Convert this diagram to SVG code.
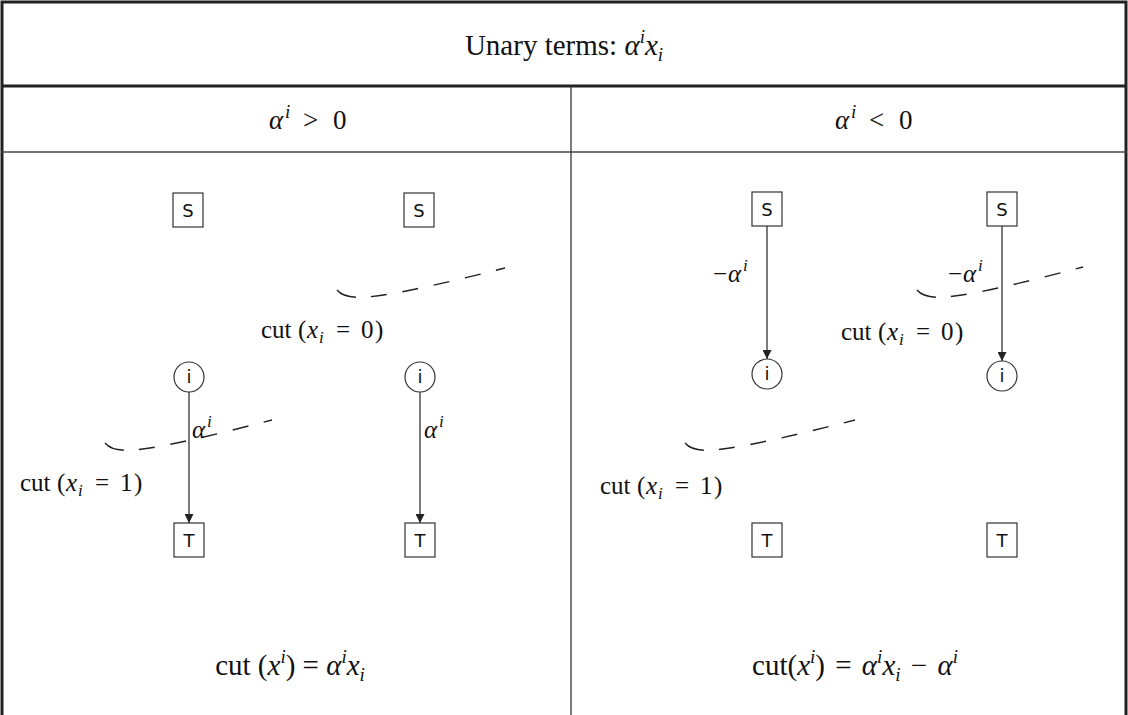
<svg xmlns="http://www.w3.org/2000/svg" width="1128" height="715" viewBox="0 0 1128 715">
<defs>
<style>
.frame{fill:none;stroke:#222;stroke-width:3}
.grid{fill:none;stroke:#444;stroke-width:1.4}
.box{fill:#fff;stroke:#333;stroke-width:1.2}
.nl{font-family:"DejaVu Sans",sans-serif;font-size:18px;fill:#111;text-anchor:middle}
.m{font-family:"Liberation Serif",serif;fill:#111}
.lab{font-size:25px}
.it{font-style:italic}
.sub{font-size:17px}
.edge{stroke:#333;stroke-width:1.3;fill:none;marker-end:url(#ah)}
.cut{stroke:#222;stroke-width:1.4;fill:none;stroke-dasharray:21 15 16 16 16 16 16 16 16 16 16 16 16 16 16 16}
</style>
<marker id="ah" viewBox="0 0 10 10" refX="10" refY="5" markerWidth="9" markerHeight="9" markerUnits="userSpaceOnUse" orient="auto">
<path d="M0,0 L10,5 L0,10 z" fill="#222"/>
</marker>
</defs>
<rect width="1128" height="715" fill="#fff"/>
<g id="table">
<path class="frame" d="M2,716 V2 H1126 V716"/>
<line class="frame" x1="2" y1="86" x2="1126" y2="86" stroke-width="2.2"/>
<line class="grid" x1="2" y1="152" x2="1126" y2="152"/>
<line class="grid" x1="571" y1="86" x2="571" y2="715"/>
</g>
<g id="headers">
<text class="m" x="564" y="55" font-size="29" text-anchor="middle">Unary terms: <tspan class="it">α</tspan><tspan class="it" font-size="19" dy="-12">i</tspan><tspan class="it" dy="12">x</tspan><tspan class="it" font-size="19" dy="6">i</tspan></text>
<text class="m" y="129" font-size="27"><tspan class="it" x="269">α</tspan><tspan class="it" x="285" font-size="19" dy="-11">i</tspan><tspan x="303" dy="11">&gt;</tspan><tspan x="333">0</tspan></text>
<text class="m" y="129" font-size="27"><tspan class="it" x="835">α</tspan><tspan class="it" x="851" font-size="19" dy="-11">i</tspan><tspan x="869" dy="11">&lt;</tspan><tspan x="899">0</tspan></text>
</g>
<g id="connectors">
<line class="edge" x1="189" y1="392" x2="189" y2="523"/>
<line class="edge" x1="420" y1="392" x2="420" y2="523"/>
<line class="edge" x1="767" y1="226" x2="767" y2="359"/>
<line class="edge" x1="1002" y1="226" x2="1002" y2="361"/>
<path class="cut" d="M337,290 C347,302 370,302 505,268"/>
<path class="cut" d="M105,443 C115,455 137,455 272,420"/>
<path class="cut" d="M917,290 C927,302 950,302 1083,267"/>
<path class="cut" d="M685,443 C695,455 717,455 855,420"/>
</g>
<g id="S1"><rect class="box" x="173" y="193" width="30" height="34"/><text class="nl" x="188" y="217">S</text></g>
<g id="S2"><rect class="box" x="404" y="193" width="30" height="34"/><text class="nl" x="419" y="217">S</text></g>
<g id="S3"><rect class="box" x="752" y="192" width="30" height="34"/><text class="nl" x="767" y="216">S</text></g>
<g id="S4"><rect class="box" x="987" y="192" width="30" height="34"/><text class="nl" x="1002" y="216">S</text></g>
<g id="i1"><circle class="box" cx="189" cy="377" r="15"/><text class="nl" x="189" y="383">i</text></g>
<g id="i2"><circle class="box" cx="420" cy="377" r="15"/><text class="nl" x="420" y="383">i</text></g>
<g id="i3"><circle class="box" cx="767" cy="374" r="15"/><text class="nl" x="767" y="380">i</text></g>
<g id="i4"><circle class="box" cx="1002" cy="376" r="15"/><text class="nl" x="1002" y="382">i</text></g>
<g id="T1"><rect class="box" x="174" y="523" width="30" height="34"/><text class="nl" x="189" y="547">T</text></g>
<g id="T2"><rect class="box" x="405" y="523" width="30" height="34"/><text class="nl" x="420" y="547">T</text></g>
<g id="T3"><rect class="box" x="752" y="523" width="30" height="34"/><text class="nl" x="767" y="547">T</text></g>
<g id="T4"><rect class="box" x="987" y="523" width="30" height="34"/><text class="nl" x="1002" y="547">T</text></g>
<g id="labels">
<g transform="translate(192,438)"><text class="m lab"><tspan class="it" x="0">α</tspan><tspan class="it sub" x="15" dy="-11">i</tspan></text></g>
<g transform="translate(424,438)"><text class="m lab"><tspan class="it" x="0">α</tspan><tspan class="it sub" x="15" dy="-11">i</tspan></text></g>
<g transform="translate(713,282)"><text class="m lab"><tspan x="0">−</tspan><tspan class="it" x="15">α</tspan><tspan class="it sub" x="30" dy="-11">i</tspan></text></g>
<g transform="translate(948,282)"><text class="m lab"><tspan x="0">−</tspan><tspan class="it" x="15">α</tspan><tspan class="it sub" x="30" dy="-11">i</tspan></text></g>
<g transform="translate(261,338)"><text class="m lab"><tspan x="0">cut</tspan><tspan x="37">(</tspan><tspan class="it" x="46">x</tspan><tspan class="it sub" x="58" dy="5">i</tspan><tspan x="75" dy="-5">=</tspan><tspan x="100">0</tspan><tspan x="114">)</tspan></text></g>
<g transform="translate(20,491)"><text class="m lab"><tspan x="0">cut</tspan><tspan x="37">(</tspan><tspan class="it" x="46">x</tspan><tspan class="it sub" x="58" dy="5">i</tspan><tspan x="75" dy="-5">=</tspan><tspan x="100">1</tspan><tspan x="114">)</tspan></text></g>
<g transform="translate(841,340)"><text class="m lab"><tspan x="0">cut</tspan><tspan x="37">(</tspan><tspan class="it" x="46">x</tspan><tspan class="it sub" x="58" dy="5">i</tspan><tspan x="75" dy="-5">=</tspan><tspan x="100">0</tspan><tspan x="114">)</tspan></text></g>
<g transform="translate(600,494)"><text class="m lab"><tspan x="0">cut</tspan><tspan x="37">(</tspan><tspan class="it" x="46">x</tspan><tspan class="it sub" x="58" dy="5">i</tspan><tspan x="75" dy="-5">=</tspan><tspan x="100">1</tspan><tspan x="114">)</tspan></text></g>
</g>
<g id="formulas">
<text class="m" x="290" y="675" font-size="29" text-anchor="middle">cut (<tspan class="it">x</tspan><tspan class="it" font-size="19" dy="-12">i</tspan><tspan dy="12">) = </tspan><tspan class="it">α</tspan><tspan class="it" font-size="19" dy="-12">i</tspan><tspan class="it" dy="12">x</tspan><tspan class="it" font-size="19" dy="6">i</tspan></text>
<text class="m" x="855" y="675" font-size="29" text-anchor="middle">cut(<tspan class="it">x</tspan><tspan class="it" font-size="19" dy="-12">i</tspan><tspan dy="12">) </tspan><tspan dx="3">=</tspan><tspan dx="3"> </tspan><tspan class="it">α</tspan><tspan class="it" font-size="19" dy="-12">i</tspan><tspan class="it" dy="12">x</tspan><tspan class="it" font-size="19" dy="6">i</tspan><tspan dy="-6" dx="3"> − </tspan><tspan dx="3" class="it">α</tspan><tspan class="it" font-size="19" dy="-12">i</tspan></text>
</g>
</svg>
